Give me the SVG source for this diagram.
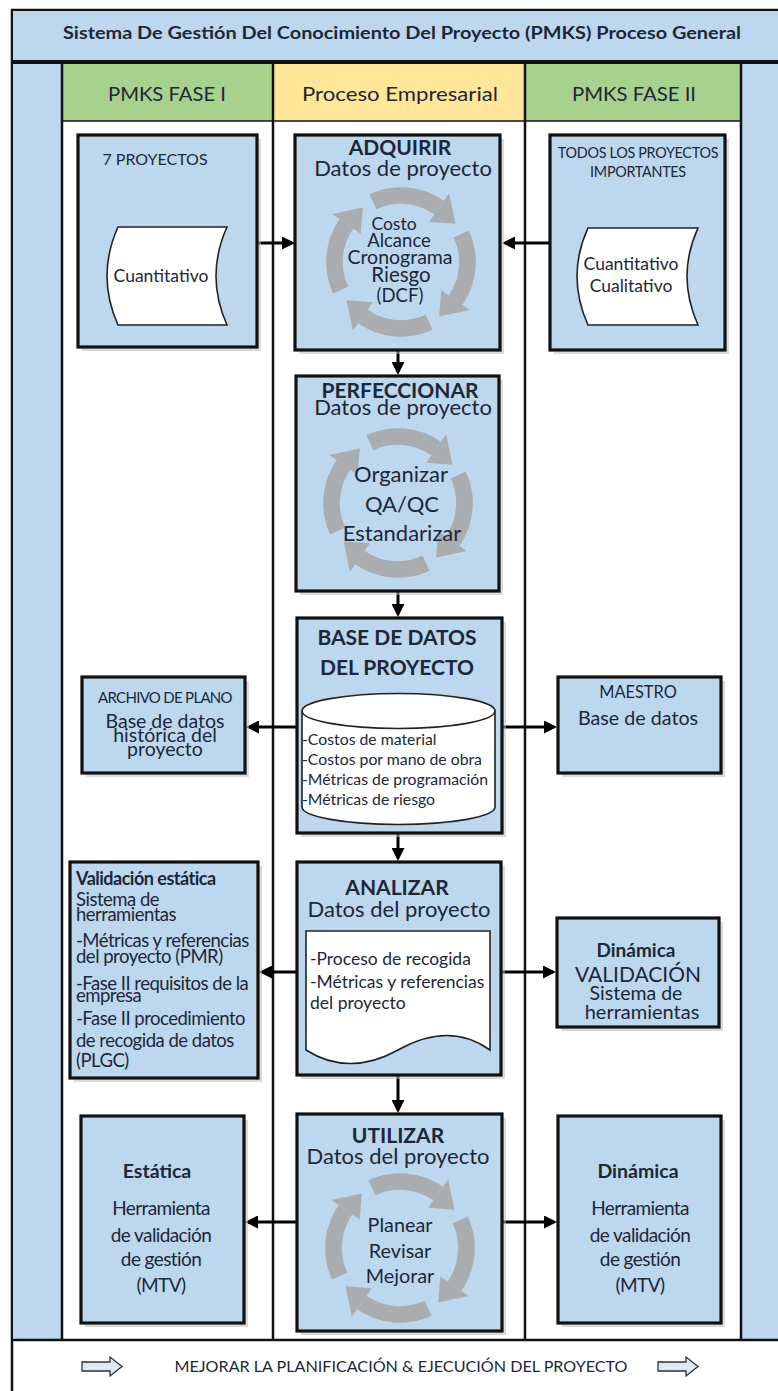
<svg xmlns="http://www.w3.org/2000/svg" xmlns:xlink="http://www.w3.org/1999/xlink" width="778" height="1391" viewBox="0 0 778 1391">
<style>
text{font-family:Lato,"Liberation Sans",sans-serif;fill:#1c2738;}
.c{text-anchor:middle;}
.b{font-weight:bold;}
.box{fill:#BDD7EE;stroke:#111;stroke-width:3.2;}
.sh{fill:#bdbdbd;opacity:0.55;}
.wht{fill:#fff;stroke:#222;stroke-width:1.6;}
.lane{stroke:#111;stroke-width:2.5;fill:none;}
.conn{stroke:#000;stroke-width:3;fill:none;marker-end:url(#ah);}
.ttl{font-size:21px;font-weight:bold;}
.sub{font-size:22px;}
.cond{letter-spacing:-0.5px;}
</style>
<defs>
<marker id="ah" markerWidth="13" markerHeight="13" refX="10" refY="6.5" orient="auto" markerUnits="userSpaceOnUse"><path d="M0,0 L13,6.5 L0,13 Z" fill="#000"/></marker>
<g id="cyc">
<path d="M-21.13,-45.32 A50,50 0 0 1 28.68,-40.96" fill="none" stroke="#A9A9A9" stroke-width="12.5"/>
<polygon points="21.22,-30.31 36.14,-51.61 40.96,-28.68" fill="#A9A9A9"/>
</g>
<g id="cycle" opacity="0.9">
<use xlink:href="#cyc"/>
<use xlink:href="#cyc" transform="rotate(90)"/>
<use xlink:href="#cyc" transform="rotate(180)"/>
<use xlink:href="#cyc" transform="rotate(270)"/>
</g>
<path id="barrow" d="M0,5 H28 V0 L40,9.5 L28,19 V14 H0 Z" fill="#DCE9F6" stroke="#333" stroke-width="1.3"/>
</defs>

<g id="frame">
<rect x="12" y="10" width="775" height="1390" fill="#fff" stroke="#111" stroke-width="2.5"/>
<rect x="13" y="11" width="765" height="50" fill="#BDD7EE"/>
<rect x="13" y="63" width="49" height="1277" fill="#BDD7EE"/>
<rect x="741" y="63" width="37" height="1277" fill="#BDD7EE"/>
<rect x="62" y="64" width="211" height="57" fill="#A9D18E"/>
<rect x="273" y="64" width="252" height="57" fill="#FFE699"/>
<rect x="525" y="64" width="216" height="57" fill="#A9D18E"/>
<line x1="12" y1="62" x2="778" y2="62" stroke="#111" stroke-width="4"/>
<line x1="62" y1="121" x2="741" y2="121" stroke="#111" stroke-width="1.5"/>
<line class="lane" x1="62" y1="62" x2="62" y2="1340"/>
<line class="lane" x1="273" y1="62" x2="273" y2="1340"/>
<line class="lane" x1="525" y1="62" x2="525" y2="1340"/>
<line class="lane" x1="741" y1="62" x2="741" y2="1340"/>
<line class="lane" x1="12" y1="1340" x2="778" y2="1340"/>
<text class="c b" x="402" y="39" font-size="16.5" textLength="678" lengthAdjust="spacingAndGlyphs">Sistema De Gestión Del Conocimiento Del Proyecto (PMKS) Proceso General</text>
<text class="c" x="167" y="101" font-size="18.5" textLength="118" lengthAdjust="spacingAndGlyphs">PMKS FASE I</text>
<text class="c" x="400" y="101" font-size="18.5" textLength="196" lengthAdjust="spacingAndGlyphs">Proceso Empresarial</text>
<text class="c" x="634" y="101" font-size="18.5" textLength="124" lengthAdjust="spacingAndGlyphs">PMKS FASE II</text>
</g>

<g id="connectors">
<path class="conn" d="M258,243 H292"/>
<path class="conn" d="M550,243 H505"/>
<path class="conn" d="M398,350 V372"/>
<path class="conn" d="M398,591 V614"/>
<path class="conn" d="M297,727 H249"/>
<path class="conn" d="M502,727 H554"/>
<path class="conn" d="M398,833 V858"/>
<path class="conn" d="M297,972 H262"/>
<path class="conn" d="M501,972 H553"/>
<path class="conn" d="M398,1075 V1110"/>
<path class="conn" d="M297,1222 H248"/>
<path class="conn" d="M502,1222 H554"/>
</g>

<g id="n-7proyectos">
<rect class="sh" x="82" y="139" width="179" height="212"/>
<rect class="box" x="78" y="135" width="179" height="212"/>
<text class="c" x="155" y="165" font-size="16">7 PROYECTOS</text>
<path class="wht" d="M118,227 L227,227 Q205,276 227,325 L118,325 Q96,276 118,227 Z"/>
<text class="c" x="161" y="282" font-size="17.5">Cuantitativo</text>
</g>

<g id="n-adquirir">
<rect class="sh" x="299" y="139" width="205" height="215"/>
<rect class="box" x="295" y="135" width="205" height="215"/>
<use xlink:href="#cycle" transform="translate(401,262) scale(1.33)"/>
<text class="c ttl" x="400" y="155">ADQUIRIR</text>
<text class="c sub" x="403" y="176">Datos de proyecto</text>
<text class="c" x="394" y="230" font-size="17.5">Costo</text>
<text class="c" x="399" y="247" font-size="18.5">Alcance</text>
<text class="c" x="400" y="264" font-size="19.5">Cronograma</text>
<text class="c" x="401" y="282" font-size="20.5">Riesgo</text>
<text class="c" x="400" y="302" font-size="18.5">(DCF)</text>
</g>

<g id="n-todos">
<rect class="sh" x="554" y="139" width="175" height="215"/>
<rect class="box" x="550" y="135" width="175" height="215"/>
<text class="c" x="638" y="158" font-size="14.4" letter-spacing="-0.3">TODOS LOS PROYECTOS</text>
<text class="c" x="638" y="177" font-size="14.4" letter-spacing="-0.3">IMPORTANTES</text>
<path class="wht" d="M588,228 L698,228 Q676,276 698,325 L588,325 Q566,276 588,228 Z"/>
<text class="c" x="631" y="270" font-size="17.5">Cuantitativo</text>
<text class="c" x="631" y="292" font-size="17.5">Cualitativo</text>
</g>

<g id="n-perfeccionar">
<rect class="sh" x="300" y="380" width="203" height="215"/>
<rect class="box" x="296" y="376" width="203" height="215"/>
<use xlink:href="#cycle" transform="translate(398,503) scale(1.33)"/>
<text class="c ttl" x="400" y="398">PERFECCIONAR</text>
<text class="c sub" x="403" y="415">Datos de proyecto</text>
<text class="c" x="401" y="482" font-size="22">Organizar</text>
<text class="c" x="402" y="512" font-size="22">QA/QC</text>
<text class="c" x="402" y="541" font-size="22">Estandarizar</text>
</g>

<g id="n-base">
<rect class="sh" x="301" y="622" width="205" height="215"/>
<rect class="box" x="297" y="618" width="205" height="215"/>
<text class="c ttl" x="397" y="645" font-size="22.5">BASE DE DATOS</text>
<text class="c ttl" x="397" y="675" font-size="22.5">DEL PROYECTO</text>
<path class="wht" d="M302,711 A96.5,17.5 0 0 1 495,711 L495,807 A96.5,17.5 0 0 1 302,807 Z"/>
<path d="M302,711 A96.5,17.5 0 0 0 495,711" fill="none" stroke="#222" stroke-width="1.6"/>
<text x="302" y="745" font-size="15.8">-Costos de material</text>
<text x="302" y="765" font-size="15.8">-Costos por mano de obra</text>
<text x="302" y="785" font-size="15.8">-Métricas de programación</text>
<text x="302" y="805" font-size="15.8">-Métricas de riesgo</text>
</g>

<g id="n-archivo">
<rect class="sh" x="86" y="681" width="163" height="96"/>
<rect class="box" x="82" y="677" width="163" height="96"/>
<text class="c" x="165" y="703" font-size="15" letter-spacing="-0.7">ARCHIVO DE PLANO</text>
<text class="c" x="165" y="728" font-size="19.5">Base de datos</text>
<text class="c" x="165" y="742" font-size="19.5">histórica del</text>
<text class="c" x="165" y="756" font-size="19.5">proyecto</text>
</g>

<g id="n-maestro">
<rect class="sh" x="562" y="681" width="163" height="96"/>
<rect class="box" x="558" y="677" width="163" height="96"/>
<text class="c" x="638" y="698" font-size="16.4">MAESTRO</text>
<text class="c" x="638" y="725" font-size="19.7">Base de datos</text>
</g>

<g id="n-validacion-estatica">
<rect class="sh" x="74" y="866" width="188" height="216"/>
<rect class="box" x="70" y="862" width="188" height="216"/>
<text class="b" x="76" y="885" font-size="18" letter-spacing="-0.5">Validación estática</text>
<text x="76" y="906" font-size="18.5" letter-spacing="-0.5">Sistema de</text>
<text x="76" y="921" font-size="18.5" letter-spacing="-0.5">herramientas</text>
<text x="76" y="947" font-size="18.5" letter-spacing="-0.5">-Métricas y referencias</text>
<text x="76" y="963" font-size="18.5" letter-spacing="-0.5">del proyecto (PMR)</text>
<text x="76" y="990" font-size="18.5" letter-spacing="-0.5">-Fase II requisitos de la</text>
<text x="76" y="1002" font-size="18.5" letter-spacing="-0.5">empresa</text>
<text x="76" y="1025" font-size="18.5" letter-spacing="-0.5">-Fase II procedimiento</text>
<text x="76" y="1047" font-size="18.5" letter-spacing="-0.5">de recogida de datos</text>
<text x="76" y="1067" font-size="18.5" letter-spacing="-0.5">(PLGC)</text>
</g>

<g id="n-analizar">
<rect class="sh" x="301" y="866" width="204" height="213"/>
<rect class="box" x="297" y="862" width="204" height="213"/>
<text class="c ttl" x="397" y="895">ANALIZAR</text>
<text class="c sub" x="399" y="917" font-size="23">Datos del proyecto</text>
<path class="wht" d="M306,931 H490 V1050 C462,1030 430,1032 398,1050 C366,1068 334,1068 306,1050 Z"/>
<text x="310" y="965" font-size="17.5">-Proceso de recogida</text>
<text x="310" y="988" font-size="17.5">-Métricas y referencias</text>
<text x="310" y="1009" font-size="17.5">del proyecto</text>
</g>

<g id="n-dinamica-validacion">
<rect class="sh" x="561" y="922" width="162" height="109"/>
<rect class="box" x="557" y="918" width="162" height="109"/>
<text class="c b" x="636" y="957" font-size="19">Dinámica</text>
<text class="c" x="638" y="982" font-size="21">VALIDACIÓN</text>
<text class="c" x="636" y="1000" font-size="19.5">Sistema de</text>
<text class="c" x="642" y="1019" font-size="20">herramientas</text>
</g>

<g id="n-utilizar">
<rect class="sh" x="301" y="1118" width="205" height="217"/>
<rect class="box" x="297" y="1114" width="205" height="217"/>
<use xlink:href="#cycle" transform="translate(400,1248) scale(1.33)"/>
<text class="c ttl" x="398" y="1143">UTILIZAR</text>
<text class="c sub" x="398" y="1164" font-size="23">Datos del proyecto</text>
<text class="c" x="400" y="1232" font-size="19.8">Planear</text>
<text class="c" x="400" y="1258" font-size="19.8">Revisar</text>
<text class="c" x="400" y="1283" font-size="19.8">Mejorar</text>
</g>

<g id="n-estatica">
<rect class="sh" x="85" y="1120" width="163" height="207"/>
<rect class="box" x="81" y="1116" width="163" height="207"/>
<text class="c b" x="157" y="1178" font-size="19.5">Estática</text>
<text class="c" x="161" y="1215" font-size="19" letter-spacing="-0.6">Herramienta</text>
<text class="c" x="161" y="1242" font-size="19" letter-spacing="-0.6">de validación</text>
<text class="c" x="161" y="1266" font-size="19" letter-spacing="-0.6">de gestión</text>
<text class="c" x="161" y="1292" font-size="19" letter-spacing="-0.6">(MTV)</text>
</g>

<g id="n-dinamica-mtv">
<rect class="sh" x="562" y="1120" width="163" height="207"/>
<rect class="box" x="558" y="1116" width="163" height="207"/>
<text class="c b" x="638" y="1178" font-size="19.5">Dinámica</text>
<text class="c" x="640" y="1215" font-size="19" letter-spacing="-0.6">Herramienta</text>
<text class="c" x="640" y="1242" font-size="19" letter-spacing="-0.6">de validación</text>
<text class="c" x="640" y="1266" font-size="19" letter-spacing="-0.6">de gestión</text>
<text class="c" x="640" y="1292" font-size="19" letter-spacing="-0.6">(MTV)</text>
</g>

<g id="footer">
<use xlink:href="#barrow" transform="translate(82,1357)"/>
<use xlink:href="#barrow" transform="translate(658,1357)"/>
<text class="c" x="401" y="1372" font-size="15" textLength="453" lengthAdjust="spacingAndGlyphs">MEJORAR LA PLANIFICACIÓN &amp; EJECUCIÓN DEL PROYECTO</text>
</g>
</svg>
